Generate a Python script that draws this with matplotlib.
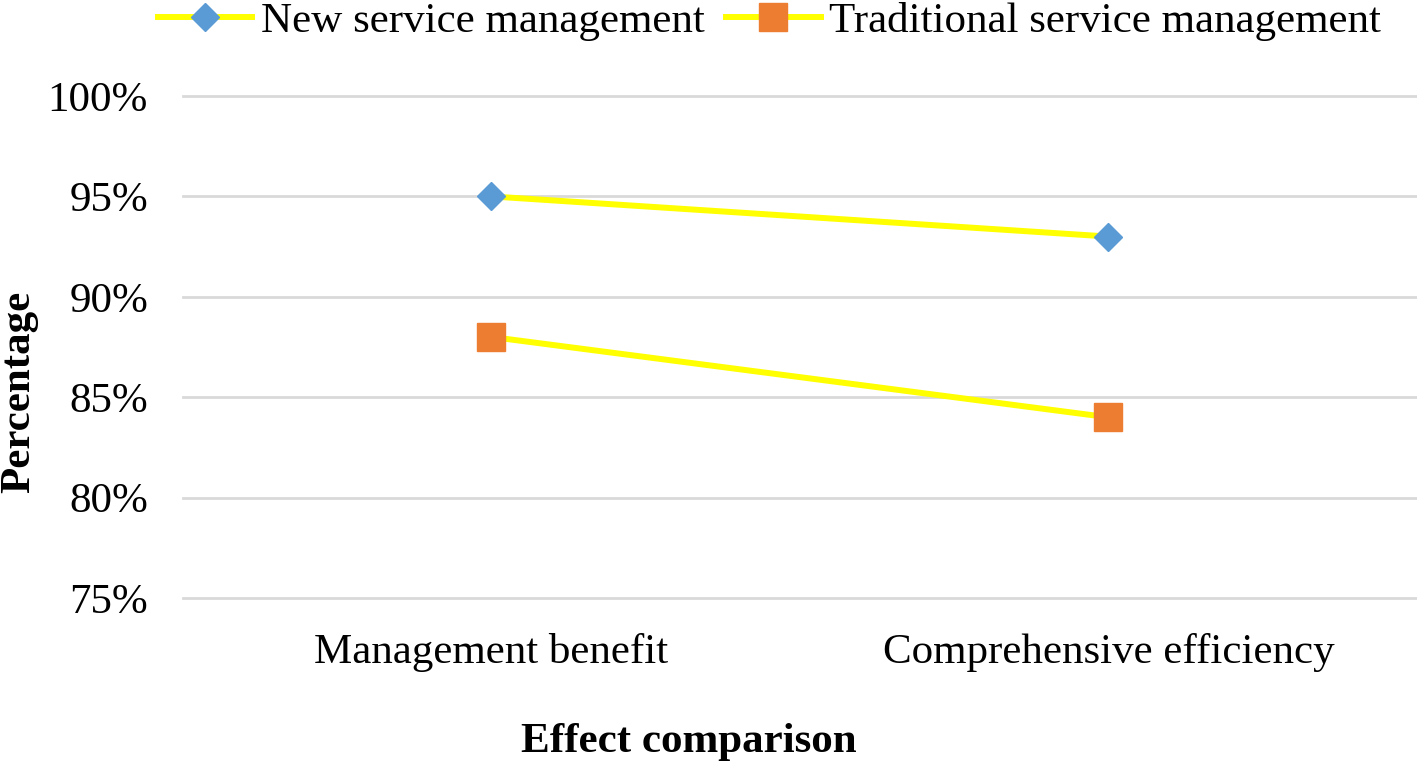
import matplotlib.pyplot as plt
import numpy as np

categories = ["Management benefit", "Comprehensive efficiency"]
new_mgmt = [95, 93]
trad_mgmt = [88, 84]
y_ticks = [75, 80, 85, 90, 95, 100]

plt.rcParams["font.family"] = ["Liberation Serif", "DejaVu Serif"]

fig = plt.figure(figsize=(14.17, 7.65), dpi=100)
ax = fig.add_axes([0.129, 0.2183, 0.871, 0.6562])

x = np.arange(len(categories))
ax.plot(x, new_mgmt, color="#FFFF00", lw=4.3, marker="D", ms=14.5,
        mfc="#5B9BD5", mec="#5B9BD5", label="New service management", zorder=3)
ax.plot(x, trad_mgmt, color="#FFFF00", lw=4.3, marker="s", ms=20,
        mfc="#ED7D31", mec="#ED7D31", label="Traditional service management", zorder=3)

ax.set_xlim(-0.5, 1.5)
ax.set_ylim(75, 100)
ax.set_yticks(y_ticks)
ax.set_yticklabels([f"{v}%" for v in y_ticks])
ax.set_xticks(x)
ax.set_xticklabels(categories)
ax.tick_params(axis="both", length=0, labelsize=31)
ax.tick_params(axis="x", pad=25)
ax.tick_params(axis="y", pad=25)
ax.grid(axis="y", color="#D9D9D9", lw=2)
for gl in ax.get_ygridlines():
    gl.set_clip_on(False)
ax.set_axisbelow(True)
for s in ax.spines.values():
    s.set_visible(False)

# axis titles placed by hand to match the original layout
fig.text(689 / 1417, 1 - 742 / 765, "Effect comparison", fontsize=31, fontweight="bold",
         ha="center", va="center")
fig.text(19 / 1417, 1 - 392 / 765, "Percentage", fontsize=31, fontweight="bold",
         rotation=90, ha="center", va="center")

fig.legend(loc="upper center", bbox_to_anchor=(0.543, 1.048), ncol=2, frameon=False,
           fontsize=31, handlelength=2.2, columnspacing=0.5, handletextpad=0.2)

fig.savefig("out.png", dpi=100)
